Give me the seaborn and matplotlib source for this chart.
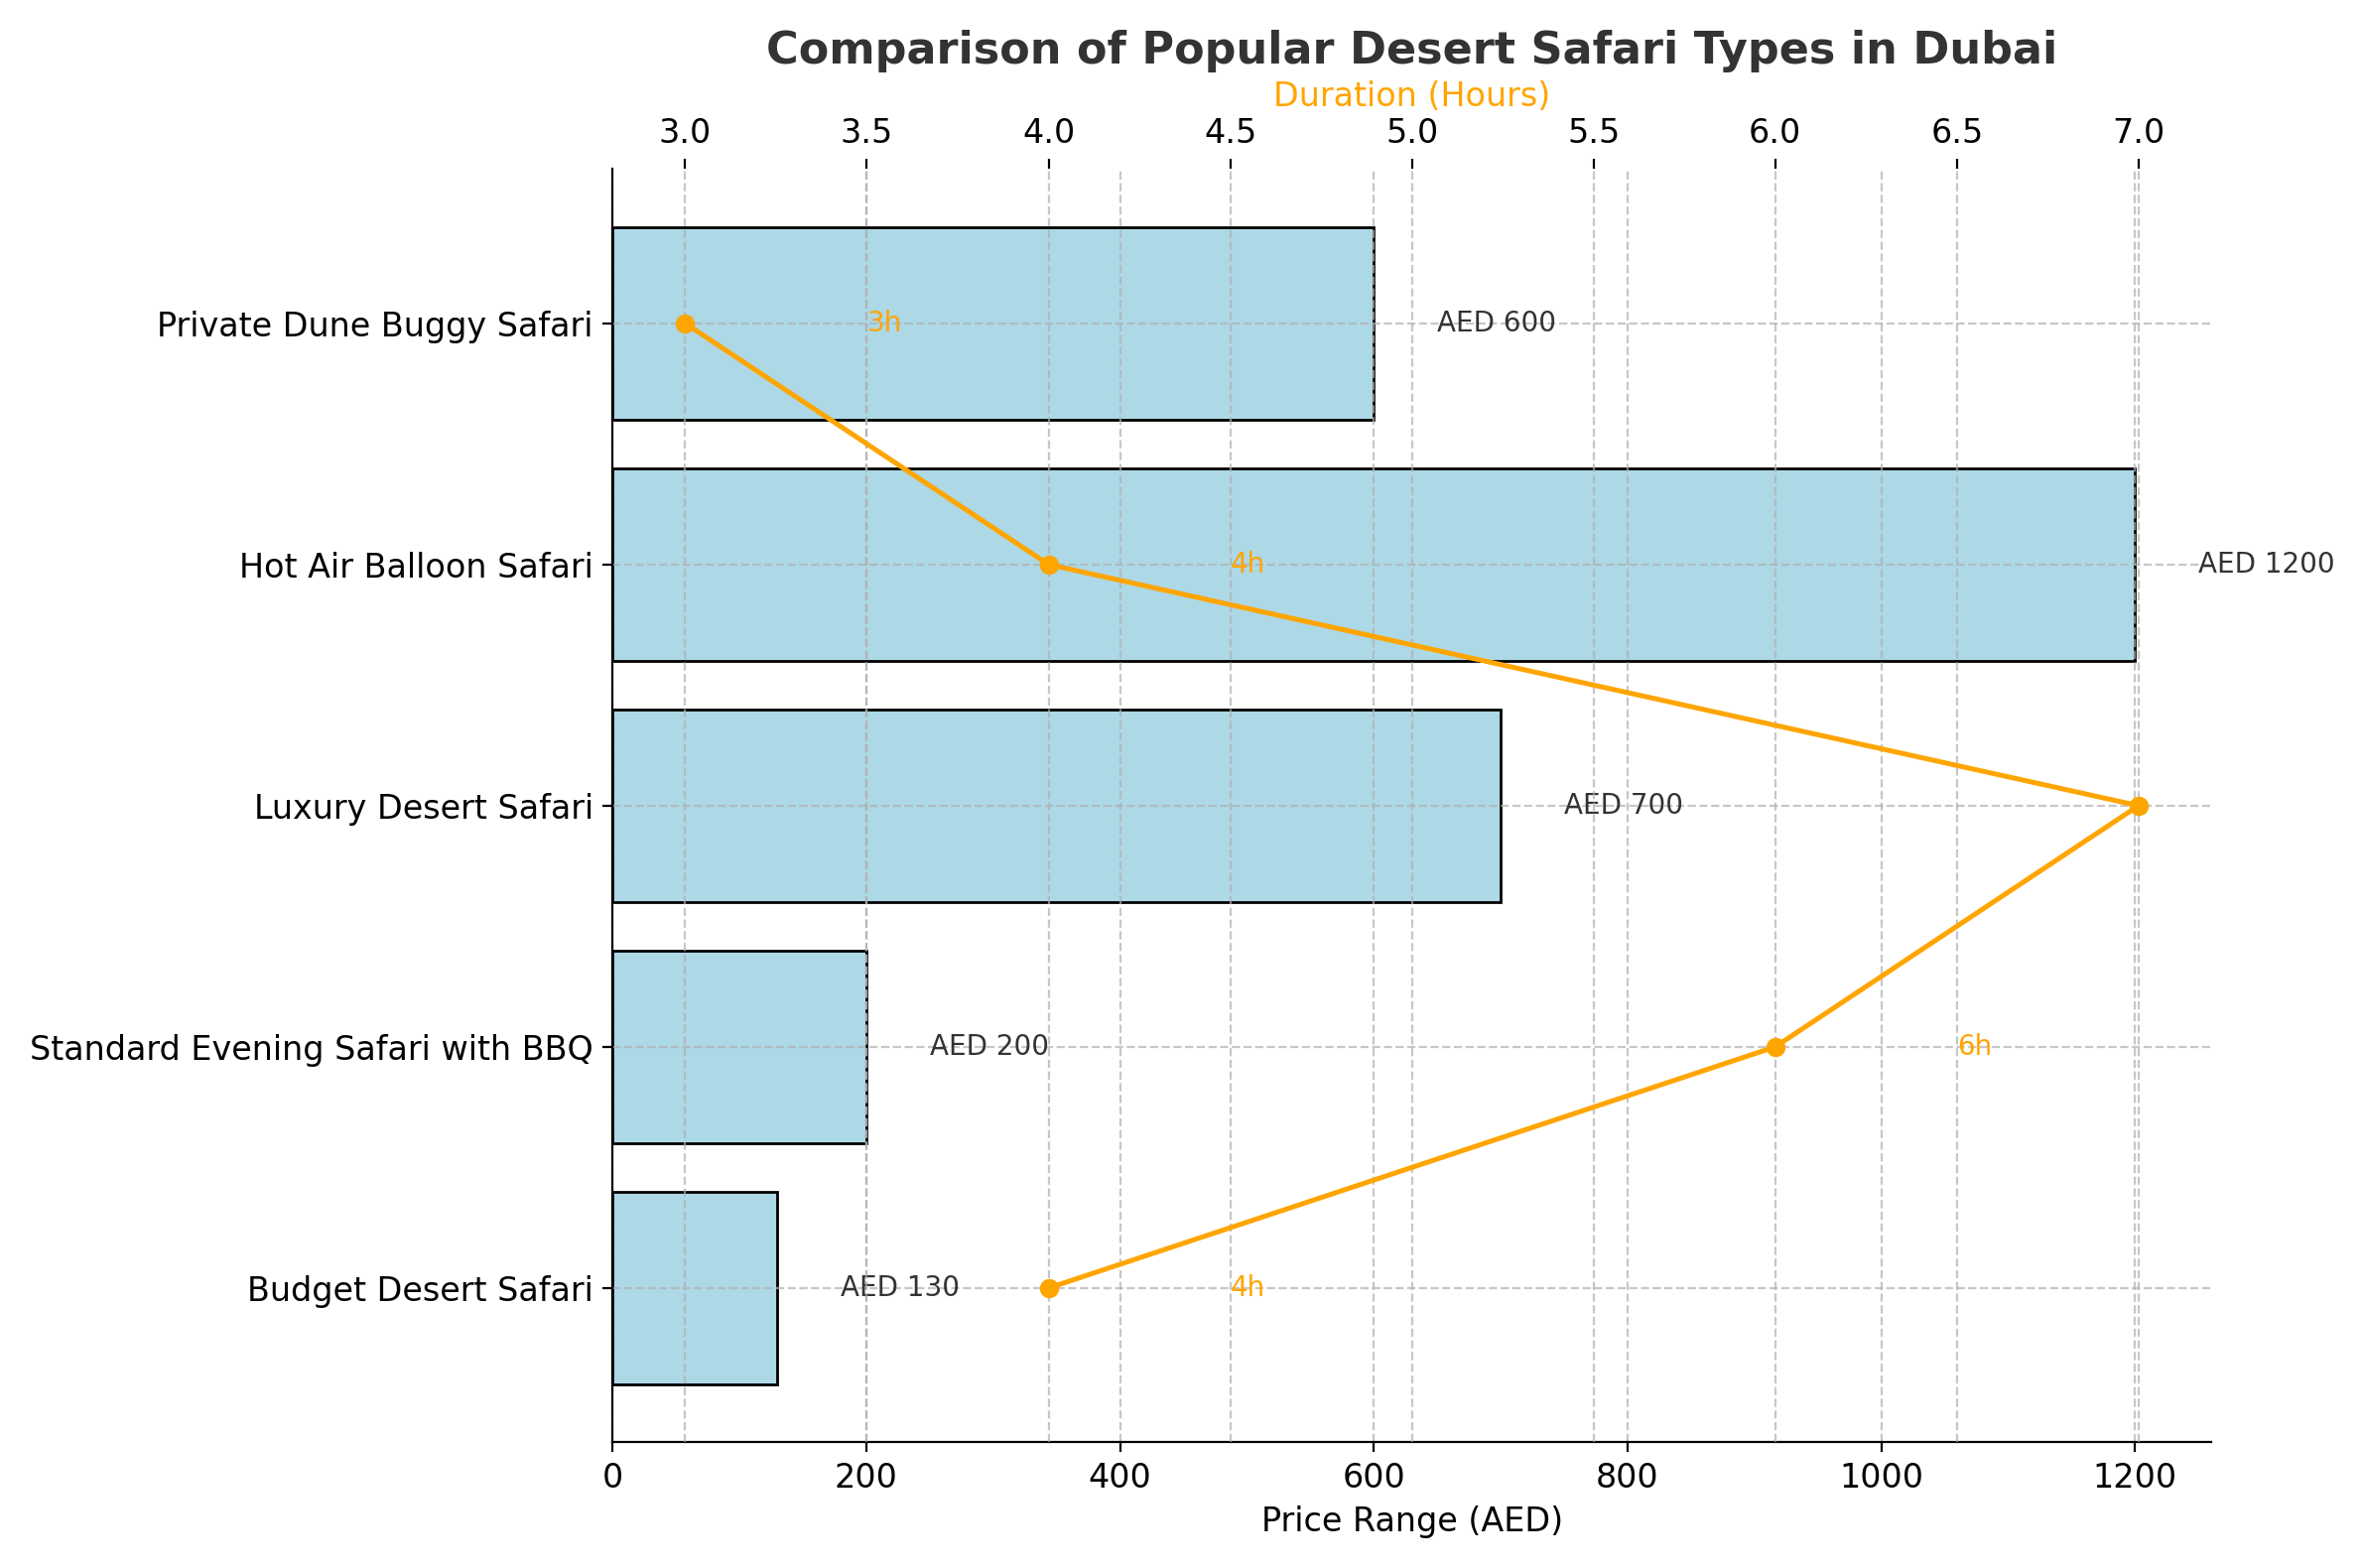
import matplotlib

matplotlib.use("Agg")
import matplotlib.pyplot as plt
import pandas as pd
import seaborn as sns

SAFARIS = [
    "Budget Desert Safari",
    "Standard Evening Safari with BBQ",
    "Luxury Desert Safari",
    "Hot Air Balloon Safari",
    "Private Dune Buggy Safari",
]
PRICES = [130, 200, 700, 1200, 600]
DURATIONS = [4, 6, 7, 4, 3]

df = pd.DataFrame({"Safari": SAFARIS, "Price": PRICES, "Duration": DURATIONS})
order = SAFARIS[::-1]
df = df.set_index("Safari").loc[order].reset_index()

fig, ax = plt.subplots(figsize=(11.905, 7.9), dpi=200)
sns.barplot(data=df, y="Safari", x="Price", order=order, color="lightblue",
            edgecolor="black", linewidth=1, saturation=1, width=0.8, ax=ax)
for i, p in enumerate(df["Price"]):
    ax.text(p + 50, i, f"AED {p}", va="center", fontsize=10, color="#333333")
ax.set_xlim(0, 1260)
ax.set_xlabel("Price Range (AED)", fontsize=12)
ax.set_ylabel("")
ax.tick_params(axis="y", labelsize=12)
ax.tick_params(axis="x", labelsize=12)
ax.grid(True, linestyle="--", alpha=0.7)
ax.spines[["top", "right"]].set_visible(False)

ax2 = ax.twiny()
ax2.plot(df["Duration"], range(len(df)), color="orange", marker="o", linewidth=1.8)
for i, d in enumerate(df["Duration"]):
    if d + 0.5 <= 7.2:
        ax2.text(d + 0.5, i, f"{d}h", va="center", fontsize=10, color="orange")
ax2.set_xlim(2.8, 7.2)
ax2.set_xlabel("Duration (Hours)", color="orange", fontsize=12)
ax2.tick_params(axis="x", labelsize=12)
ax2.grid(True, linestyle="--", alpha=0.7)
ax2.spines[["top", "right", "left", "bottom"]].set_visible(False)

ax.set_title("Comparison of Popular Desert Safari Types in Dubai",
             fontsize=16, fontweight="bold", color="#333333")
plt.tight_layout()
plt.savefig("out.png", dpi=200)
